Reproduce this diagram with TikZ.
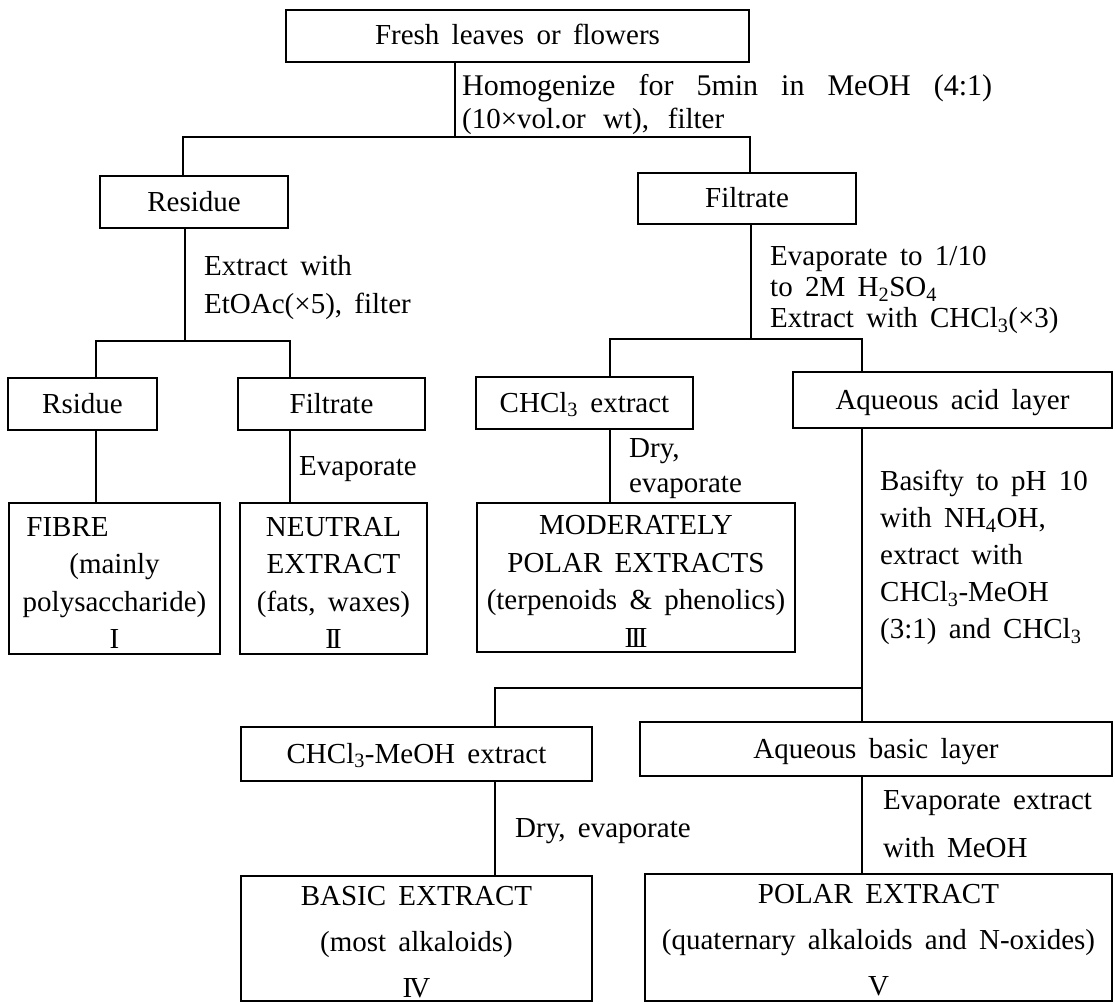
\documentclass[tikz,border=0pt]{standalone}
\usepackage{fontspec}
\setmainfont[WordSpace=1.7]{Liberation Serif}
% roman numerals with touching serifs
\newcommand{\rmII}{I\kern-3pt I}
\newcommand{\rmIII}{I\kern-3pt I\kern-3pt I}
\newcommand{\rmIV}{I\kern-3pt V}
\begin{document}
\begin{tikzpicture}[x=1pt,y=-1pt,
  every node/.style={inner sep=0pt, font=\fontsize{29}{37.5}\selectfont},
  box/.style={draw, line width=1.5pt, rectangle, align=center},
  onel/.style={text height=19pt, text depth=1pt},
  tall/.style={font=\fontsize{29}{46}\selectfont},
  lbl/.style={anchor=west, text height=19pt, text depth=4pt},
  link/.style={line width=1.5pt}]
\useasboundingbox (0,0) rectangle (1115,1003);

% ---- boxes ----
\node[box, onel, minimum width=463pt, minimum height=52pt] (fresh) at (517.5,36) {Fresh leaves or flowers};
\node[box, onel, minimum width=188pt, minimum height=52pt] (res) at (194,202) {Residue};
\node[box, onel, minimum width=218pt, minimum height=51pt] (filt) at (747,198.5) {Filtrate};
\node[box, onel, minimum width=149pt, minimum height=52pt] (rsid) at (82.5,404) {Rsidue};
\node[box, onel, minimum width=187pt, minimum height=52pt] (filt2) at (331.5,404) {Filtrate};
\node[box, onel, minimum width=217pt, minimum height=52pt] (chcl) at (584.5,403) {CHCl\textsubscript{3} extract};
\node[box, onel, minimum width=319pt, minimum height=56pt] (aqacid) at (952.5,400) {Aqueous acid layer};
\node[box, minimum width=211pt, minimum height=151pt] (fibre) at (114.5,578.5)
  {\rule{0pt}{28pt}FIBRE\hspace*{94pt}\\(mainly\\polysaccharide)\\I};
\node[box, minimum width=187pt, minimum height=151pt] (neutral) at (333.5,578.5)
  {\rule{0pt}{28pt}NEUTRAL\\EXTRACT\\(fats, waxes)\\\rmII};
\node[box, minimum width=318pt, minimum height=149pt] (moder) at (636,577.5)
  {\rule{0pt}{27pt}MODERATELY\\POLAR EXTRACTS\\(terpenoids \& phenolics)\\\rmIII};
\node[box, onel, minimum width=351pt, minimum height=54pt] (chmeoh) at (416.5,754) {CHCl\textsubscript{3}-MeOH extract};
\node[box, onel, minimum width=472pt, minimum height=54pt] (aqbasic) at (876,749) {Aqueous basic layer};
\node[box, tall, minimum width=351pt, minimum height=125pt] (basic) at (416.5,938.5)
  {\rule{0pt}{26pt}BASIC EXTRACT\\(most alkaloids)\\\rmIV};
\node[box, tall, minimum width=467pt, minimum height=127pt] (polar) at (878.5,937.5)
  {\rule{0pt}{25pt}POLAR EXTRACT\\(quaternary alkaloids and N-oxides)\\V};

% ---- step labels ----
\node[lbl] (hom1) at (462,88) {\fontsize{30}{36}\selectfont\makebox[530pt][s]{Homogenize for 5min in MeOH (4:1)}};
\node[lbl] (hom2) at (462,121) {\makebox[262pt][s]{(10×vol.or wt), filter}};
\node[lbl] (ext1) at (204,268) {Extract with};
\node[lbl] (ext2) at (204,306) {EtOAc(×5), filter};
\node[lbl] (evp1) at (770,258) {Evaporate to 1/10};
\node[lbl] (evp2) at (770,289) {to 2M H\textsubscript{2}SO\textsubscript{4}};
\node[lbl] (evp3) at (770,320) {Extract with CHCl\textsubscript{3}(×3)};
\node[lbl] (evap) at (299,468) {Evaporate};
\node[lbl] (dry1) at (629,450) {Dry,};
\node[lbl] (dry2) at (629,485) {evaporate};
\node[lbl] (bas1) at (880,483) {Basifty to pH 10};
\node[lbl] (bas2) at (880,520) {with NH\textsubscript{4}OH,};
\node[lbl] (bas3) at (880,557) {extract with};
\node[lbl] (bas4) at (880,594) {CHCl\textsubscript{3}-MeOH};
\node[lbl] (bas5) at (880,631) {(3:1) and CHCl\textsubscript{3}};
\node[lbl] (dry3) at (515,830) {Dry, evaporate};
\node[lbl] (evx1) at (883,802) {Evaporate extract};
\node[lbl] (evx2) at (883,850) {with MeOH};

% ---- branch points ----
\coordinate (j1) at (455,137);
\coordinate (j1l) at (183,137);
\coordinate (j1r) at (750,137);
\coordinate (j2) at (185,341);
\coordinate (j2l) at (96,341);
\coordinate (j2r) at (290,341);
\coordinate (j3) at (751,339);
\coordinate (j3l) at (610,339);
\coordinate (j3r) at (862,339);
\coordinate (j4) at (862,688);
\coordinate (j4l) at (495,688);

% ---- connectors ----
\draw[link] (fresh.south -| j1) -- (j1);
\draw[link] (res.north -| j1l) -- (j1l) -- (j1r) -- (filt.north -| j1r);
\draw[link] (res.south -| j2) -- (j2);
\draw[link] (rsid.north -| j2l) -- (j2l) -- (j2r) -- (filt2.north -| j2r);
\draw[link] (rsid.south -| j2l) -- (fibre.north -| j2l);
\draw[link] (filt2.south -| j2r) -- (neutral.north -| j2r);
\draw[link] (filt.south -| j3) -- (j3);
\draw[link] (chcl.north -| j3l) -- (j3l) -- (j3r) -- (aqacid.north -| j3r);
\draw[link] (chcl.south -| j3l) -- (moder.north -| j3l);
\draw[link] (aqacid.south -| j4) -- (j4) -- (aqbasic.north -| j4);
\draw[link] (j4) -- (j4l) -- (chmeoh.north -| j4l);
\draw[link] (chmeoh.south -| j4l) -- (basic.north -| j4l);
\draw[link] (aqbasic.south -| j4) -- (polar.north -| j4);
\end{tikzpicture}
\end{document}
